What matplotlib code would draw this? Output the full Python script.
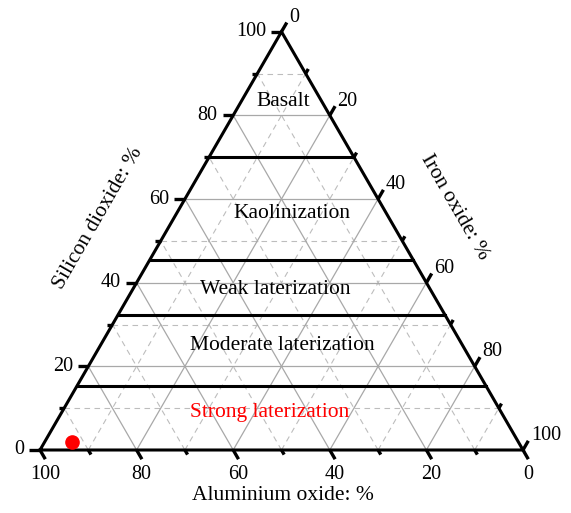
import numpy as np
import matplotlib
matplotlib.use("Agg")
import matplotlib.pyplot as plt

# ternary axes: silicon dioxide (left), iron oxide (right), aluminium oxide (bottom)
tick_values = [0, 10, 20, 30, 40, 50, 60, 70, 80, 90, 100]
major_ticks = [0, 20, 40, 60, 80, 100]
solid_grid = [20, 40, 60, 80]
dashed_grid = [10, 30, 50, 70, 90]

# class boundaries as SiO2 level (%)
boundaries = [70, 45.5, 32.3, 15.2]
zone_names = ["Basalt", "Kaolinization", "Weak laterization",
              "Moderate laterization", "Strong laterization"]
zone_colors = ["black", "black", "black", "black", "red"]

# sample point (SiO2, Fe2O3, Al2O3)
sample_si = [1.9]
sample_fe = [5.7]
sample_al = [92.4]

H = np.sqrt(3) / 2.0


def tern(al, fe, si):
    x = fe + si / 2.0
    y = si * H
    return x, y


plt.rcParams['font.family'] = ['Liberation Serif', 'DejaVu Serif']

fig = plt.figure(figsize=(5.71, 5.13), dpi=100)
ax = fig.add_axes([0, 0, 1, 1])
scale = 4.83
ax.set_xlim(-40 / scale, (571 - 40) / scale)
ax.set_ylim(-63 / scale, 450 / scale)
ax.axis("off")


def grid_line(v, **kw):
    # SiO2 = v
    x0, y0 = tern(100 - v, 0, v)
    x1, y1 = tern(0, 100 - v, v)
    ax.plot([x0, x1], [y0, y1], **kw)
    # Fe = v
    x0, y0 = tern(100 - v, v, 0)
    x1, y1 = tern(0, v, 100 - v)
    ax.plot([x0, x1], [y0, y1], **kw)
    # Al = v
    x0, y0 = tern(v, 100 - v, 0)
    x1, y1 = tern(v, 0, 100 - v)
    ax.plot([x0, x1], [y0, y1], **kw)


for v in dashed_grid:
    grid_line(v, color="#bdbdbd", lw=0.8, ls=(0, (5, 4)), zorder=1)
for v in solid_grid:
    grid_line(v, color="#a8a8a8", lw=0.9, zorder=1)

# class boundary lines
for b in boundaries:
    x0, y0 = tern(100 - b, 0, b)
    x1, y1 = tern(0, 100 - b, b)
    ax.plot([x0, x1], [y0, y1], color="black", lw=2.2, zorder=3)

# triangle frame
tx = [0, 100, 50, 0]
ty = [0, 0, 100 * H, 0]
ax.plot(tx, ty, color="black", lw=2.2, zorder=4, solid_joinstyle="miter")

# ticks and labels
fs_num = 14.5
fs = 15.5
c60, s60 = 0.5, H
for v in tick_values:
    L = 2.2 if v in major_ticks else 1.1
    # left axis (SiO2)
    x, y = tern(100 - v, 0, v)
    ax.plot([x, x - L], [y, y], color="black", lw=2.4, zorder=4,
            solid_capstyle="butt")
    if v in major_ticks:
        ax.text(x - L - 1.0, y, str(v), ha="right", va="center",
                fontsize=fs_num)
    # right axis (Fe)
    x, y = tern(0, v, 100 - v)
    ax.plot([x, x + L * c60], [y, y + L * s60], color="black", lw=2.4,
            zorder=4, solid_capstyle="butt")
    if v in major_ticks:
        ax.text(x + L * c60 + 0.5, y + L * s60 - 0.9, str(v), ha="left",
                va="bottom", fontsize=fs_num)
    # bottom axis (Al)
    x, y = tern(v, 100 - v, 0)
    ax.plot([x, x + L * c60], [y, y - L * s60], color="black", lw=2.4,
            zorder=4, solid_capstyle="butt")
    if v in major_ticks:
        ax.text(x + 1.0, y - 3.2, str(v), ha="center", va="top",
                fontsize=fs_num)

# axis titles
ax.text((98 - 40) / scale, (450 - 218) / scale, "Silicon dioxide: %",
        rotation=60, ha="center", va="center", fontsize=fs,
        rotation_mode="anchor")
ax.text((455 - 40) / scale, (450 - 207) / scale, "Iron oxide: %",
        rotation=-60, ha="center", va="center", fontsize=fs,
        rotation_mode="anchor")
ax.text((283 - 40) / scale, (450 - 496) / scale, "Aluminium oxide: %",
        ha="center", va="center", fontsize=fs)

# zone names
zone_px = [(283, 101), (292, 213), (275, 290), (282, 345), (270, 413)]
for name, col, (px, py) in zip(zone_names, zone_colors, zone_px):
    ax.text((px - 40) / scale, (450 - py) / scale, name, ha="center",
            va="center", fontsize=fs, color=col, zorder=5)

# sample
sx, sy = tern(np.array(sample_al), np.array(sample_fe), np.array(sample_si))
ax.plot(sx, sy, "o", color="red", ms=9.5, zorder=6)

fig.savefig("out.png", dpi=100)
